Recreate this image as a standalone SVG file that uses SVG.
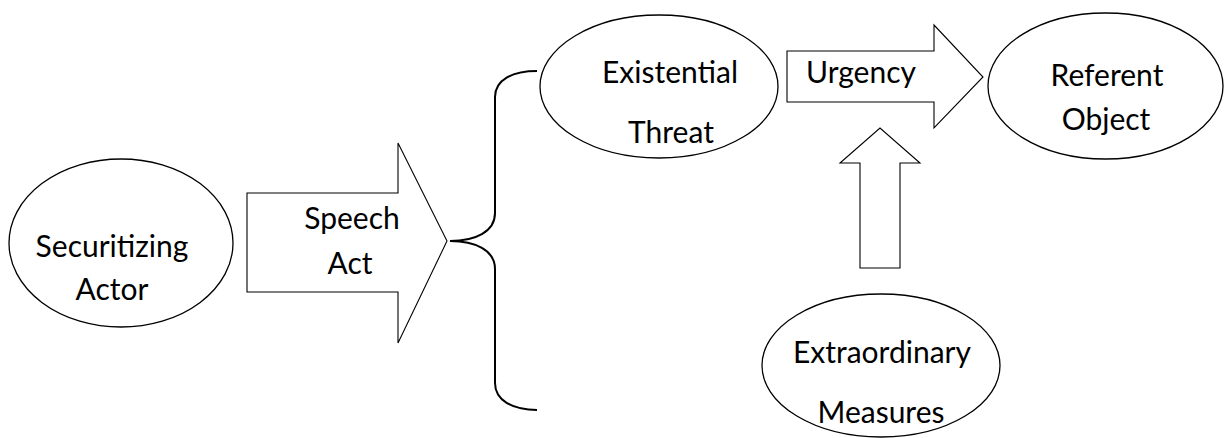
<svg xmlns="http://www.w3.org/2000/svg" width="1225" height="438" viewBox="0 0 1225 438">
<style>
.node{fill:#fff;stroke:#000;stroke-width:1.3}
.arrow{fill:#fff;stroke:#000;stroke-width:1.1;stroke-linejoin:miter}
.brace{fill:none;stroke:#000;stroke-width:2}
text{font-family:Lato,"Liberation Sans",sans-serif;font-size:30px;fill:#000;text-anchor:middle}
</style>
<rect width="1225" height="438" fill="#fff"/>
<g id="connectors">
<path id="speech-act" class="arrow" d="M247,193 L398,193 L398,143 L447,241 L398,343 L398,292 L247,292 Z"/>
<text x="352" y="229">Speech</text>
<text x="350" y="274">Act</text>
<path id="brace" class="brace" d="M537,71 C512,71 495,80 495,97 L495,213 C495,232 475,241 450,241 C475,241 495,250 495,269 L495,383 C495,400 512,410 537,410"/>
<path id="urgency" class="arrow" d="M787,51 L934,51 L934,25 L983,77 L934,128 L934,102 L787,102 Z"/>
<text x="861" y="83">Urgency</text>
<path id="measures-arrow" class="arrow" d="M860,268 L860,163 L840,163 L880,128 L920,163 L900,163 L900,268 Z"/>
</g>
<g id="securitizing-actor">
<ellipse class="node" cx="121" cy="243" rx="112" ry="84"/>
<text x="112" y="257">Securitizing</text>
<text x="112" y="300">Actor</text>
</g>
<g id="existential-threat">
<ellipse class="node" cx="659" cy="86.5" rx="119" ry="71.5"/>
<text x="670" y="83">Existential</text>
<text x="671" y="143">Threat</text>
</g>
<g id="referent-object">
<ellipse class="node" cx="1105.5" cy="86" rx="117.5" ry="73"/>
<text x="1107" y="86">Referent</text>
<text x="1106" y="130">Object</text>
</g>
<g id="extraordinary-measures">
<ellipse class="node" cx="881" cy="365.5" rx="119" ry="71.5"/>
<text x="882" y="363">Extraordinary</text>
<text x="881" y="423">Measures</text>
</g>
</svg>
